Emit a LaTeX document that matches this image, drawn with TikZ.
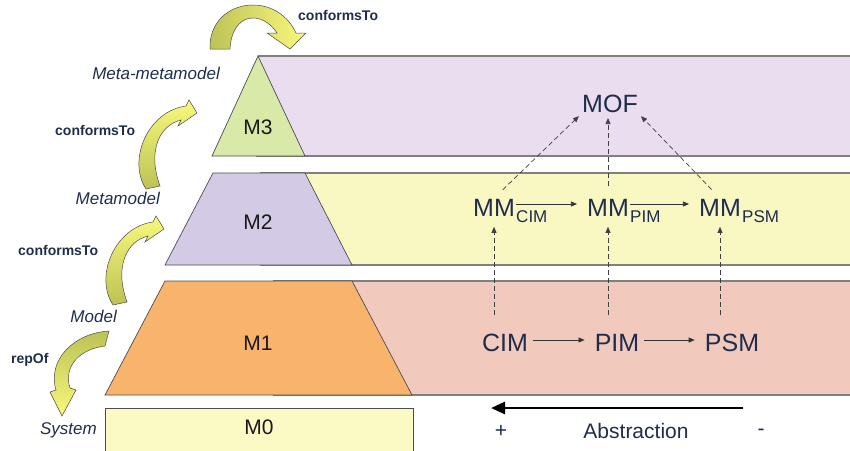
\documentclass[tikz,border=0pt]{standalone}
\usepackage{fontspec}
\setmainfont{Liberation Sans}
\usetikzlibrary{arrows.meta, positioning, calc}
\definecolor{cmeta}{HTML}{E9DDEF}
\definecolor{cmmband}{HTML}{FAF8C2}
\definecolor{cmband}{HTML}{F2C9BD}
\definecolor{cthree}{HTML}{D8E9A8}
\definecolor{ctwo}{HTML}{D3CAE6}
\definecolor{cone}{HTML}{F8B46C}
\definecolor{czero}{HTML}{FBF9C4}
\definecolor{ctext}{HTML}{1F2D4D}
\definecolor{colive}{HTML}{BCC255}
\definecolor{cyell}{HTML}{F8F87C}

\begin{document}
\begin{tikzpicture}[x=1pt, y=-1pt,
    band/.style={draw=black!50, line width=1.2pt},
    level/.style={draw=black!70, line width=0.7pt},
    levellabel/.style={font=\fontsize{21}{24}\selectfont, text=black!90},
    modellabel/.style={font=\fontsize{25}{28}\selectfont, text=ctext, inner sep=1pt},
    subtxt/.style={font=\fontsize{17}{19}\selectfont, text=ctext, inner sep=0pt, anchor=base west},
    metaname/.style={font=\fontsize{17}{20}\selectfont\itshape, text=ctext, inner sep=0pt, anchor=base east},
    relname/.style={font=\fontsize{14}{16}\selectfont\bfseries, text=ctext, inner sep=0pt, anchor=west},
    blockarrow/.style={draw=black!70, line width=0.5pt},
    dep/.style={draw=black!75, line width=0.7pt, dash pattern=on 5pt off 3pt,
                -{Triangle[length=6pt,width=5pt]}},
    flow/.style={draw=black!80, line width=0.7pt, -{Triangle[length=6pt,width=5pt]},
                 shorten >=9pt},
]
\useasboundingbox (0,0) rectangle (850,450);

% layer bands
\fill[cmeta] (258,56) rectangle (850,156);
\draw[band] (258,56) -- (850,56);
\draw[band] (256,156) -- (850,156);
\fill[cmmband] (260,173) rectangle (850,265);
\draw[band] (260,173) -- (850,173);
\draw[band] (260,265) -- (850,265);
\fill[cmband] (273,281) rectangle (850,395);
\draw[band] (273,281) -- (850,281);
\draw[band] (273,395) -- (850,395);

% pyramid
\draw[level, fill=cthree] (258,56) -- (305,156) -- (212,156) -- cycle;
\draw[level, fill=ctwo] (213,173) -- (305,173) -- (352,265) -- (165,265) -- cycle;
\draw[level, fill=cone] (165,281) -- (352,281) -- (412,395) -- (105,395) -- cycle;
\begin{scope}
  \clip (0,0) rectangle (850,450);
  \draw[level, fill=czero] (105,408) rectangle (413,460);
\end{scope}

\node[levellabel] (m3) at (258,127) {M3};
\node[levellabel] (m2) at (258,222) {M2};
\node[levellabel] (m1) at (258,343) {M1};
\node[levellabel] (m0) at (259,427) {M0};

% level names
\node[metaname] (nmeta) at (220,79)  {Meta-metamodel};
\node[metaname] (nmm)   at (160,204) {Metamodel};
\node[metaname] (nmod)  at (117,322) {Model};
\node[metaname] (nsys)  at (97,434)  {System};

\node[relname] (rtop) at (298,15)  {conformsTo};
\node[relname] (rmm)  at (55,130)  {conformsTo};
\node[relname] (rmod) at (18,250)  {conformsTo};
\node[relname] (rsys) at (11,360)  {repOf};

% curved block arrows
\draw[blockarrow, left color=colive, right color=cyell]
  (210,49) .. controls (208,0) and (275,-12) .. (296,33)
  -- (306,33) -- (290,49) -- (267,33) -- (277,33)
  .. controls (262,10) and (232,12) .. (230,49) -- cycle;
\draw[blockarrow, bottom color=colive, top color=cyell]
  (146,189) .. controls (127,160) and (148,111) .. (186,106)
  -- (189,100) -- (197,113) -- (178,126) -- (181,120)
  .. controls (160,125) and (147,150) .. (160,186) -- cycle;
\draw[blockarrow, bottom color=colive, top color=cyell]
  (113,305) .. controls (94,276) and (115,227) .. (153,222)
  -- (156,216) -- (164,229) -- (145,242) -- (148,236)
  .. controls (127,241) and (114,266) .. (127,302) -- cycle;
\draw[blockarrow, top color=colive, bottom color=cyell]
  (109,331) .. controls (74,333) and (47,360) .. (56,390)
  -- (50,392) -- (62,416) -- (76,390) -- (70,388)
  .. controls (63,366) and (80,349) .. (105,346) -- cycle;

% models
\node[modellabel] (mof) at (610,104) {MOF};
\node[modellabel] (mmcim) at (494,208) {MM};
\node[subtxt] (mmcimsub) at ([yshift=-6pt]mmcim.base east) {CIM};
\node[modellabel] (mmpim) at (608,208) {MM};
\node[subtxt] (mmpimsub) at ([yshift=-6pt]mmpim.base east) {PIM};
\node[modellabel] (mmpsm) at (720,208) {MM};
\node[subtxt] (mmpsmsub) at ([yshift=-6pt]mmpsm.base east) {PSM};
\node[modellabel] (cim) at (505,343) {CIM};
\node[modellabel] (pim) at (617,343) {PIM};
\node[modellabel] (psm) at (732,343) {PSM};

\draw[flow] ([yshift=4pt]mmcim.east) -- ([yshift=4pt]mmpim.west);
\draw[flow] ([yshift=4pt]mmpim.east) -- ([yshift=4pt]mmpsm.west);
\draw[flow, shorten <=4pt] ([yshift=3pt]cim.east) -- ([yshift=3pt]pim.west);
\draw[flow, shorten <=4pt] ([yshift=3pt]pim.east) -- ([yshift=3pt]psm.west);

\draw[dep, shorten <=12pt, shorten >=3pt] (mmcim.north) -- (mof.south west);
\draw[dep, shorten <=12pt, shorten >=4pt] (mmpim.north) -- (mmpim.north |- mof.south);
\draw[dep, shorten <=12pt, shorten >=3pt] (mmpsm.north) -- (mof.south east);
\foreach \lo/\hi in {cim/mmcim, pim/mmpim, psm/mmpsm}
  \draw[dep, shorten <=18pt, shorten >=9pt] (\hi |- \lo.north) -- (\hi.south);

% abstraction axis
\coordinate (absR) at (743,408);
\coordinate (absL) at (491,408);
\draw[line width=2.8pt, -{Triangle[length=14pt,width=12pt]}] (absR) -- (absL);
\node[font=\fontsize{21}{24}\selectfont, text=ctext] (plus) at (501,431) {+};
\node[font=\fontsize{21}{24}\selectfont, text=ctext] (abst) at (636,431) {Abstraction};
\node[font=\fontsize{21}{24}\selectfont, text=ctext] (minus) at (761,432) {-};
\end{tikzpicture}
\end{document}
